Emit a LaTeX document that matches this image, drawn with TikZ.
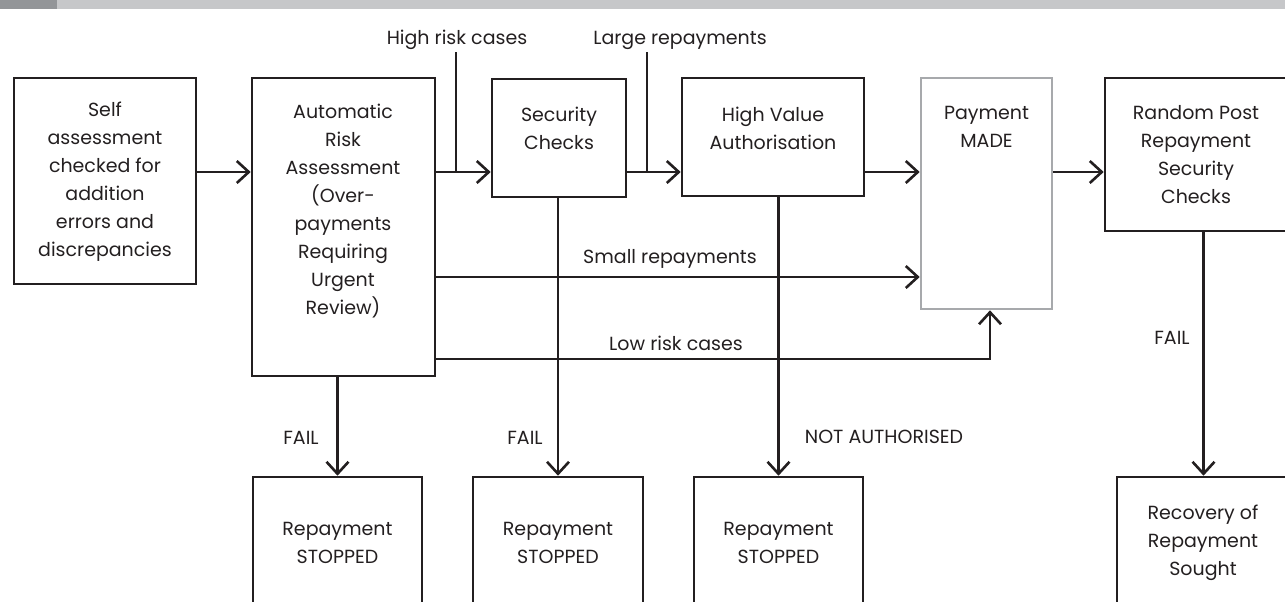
\documentclass[tikz,border=0pt]{standalone}
\usepackage{fontspec}
\setmainfont{Poppins}
\usetikzlibrary{arrows.meta}
\definecolor{ink}{HTML}{231F20}
\definecolor{barlight}{HTML}{C6C7C9}
\definecolor{bardark}{HTML}{939598}
\definecolor{paygray}{HTML}{A7A9AC}
\begin{document}
\begin{tikzpicture}[x=0.5pt,y=-0.5pt,
    box/.style={draw=ink,line width=1.3pt,rectangle,inner sep=0pt},
    txt/.style={align=center,font=\fontsize{9.5}{14}\selectfont,text=ink,inner sep=0pt},
    line/.style={draw=ink,line width=1.3pt},
    flow/.style={line,-{Straight Barb[length=6pt,width=11pt,line width=1.3pt]}}]
    \clip (0,0) rectangle (1285,601);
    % top bar
    \fill[barlight] (0,0) rectangle (1285,8.5);
    \fill[bardark] (0,0) rectangle (57,8.5);
    % boxes
    \node[box,minimum width=91pt,minimum height=103pt] (self) at (105,181) {};
    \node[box,minimum width=91.5pt,minimum height=149pt] (auto) at (343.5,227) {};
    \node[box,minimum width=67pt,minimum height=59pt] (sec) at (559,138) {};
    \node[box,minimum width=91pt,minimum height=59pt] (hv) at (773,137) {};
    \node[box,draw=paygray,minimum width=65.5pt,minimum height=115.5pt] (pay) at (986.5,193.5) {};
    \node[box,minimum width=92.5pt,minimum height=76.5pt] (rand) at (1197.5,154.5) {};
    \node[box,minimum width=84.5pt,minimum height=76.5pt] (rep1) at (337.5,553.5) {};
    \node[box,minimum width=85pt,minimum height=76.5pt] (rep2) at (558,553.5) {};
    \node[box,minimum width=84.5pt,minimum height=76.5pt] (rep3) at (778.5,553.5) {};
    \node[box,minimum width=86.5pt,minimum height=76.5pt] (recov) at (1203.5,553.5) {};
    % box texts
    \node[txt] (selftxt) at (105,182) {Self\\assessment\\checked for\\addition\\errors and\\discrepancies};
    \node[txt] (autotxt) at (343,211) {Automatic\\Risk\\Assessment\\(Over-\\payments\\Requiring\\Urgent\\Review)};
    \node[txt] (sectxt) at (559,128) {Security\\Checks};
    \node[txt] (hvtxt) at (773,128) {High Value\\Authorisation};
    \node[txt] (paytxt) at (986.5,127) {Payment\\MADE};
    \node[txt] (randtxt) at (1196,155) {Random Post\\Repayment\\Security\\Checks};
    \node[txt] (rep1txt) at (337.5,543) {Repayment\\STOPPED};
    \node[txt] (rep2txt) at (558,543) {Repayment\\STOPPED};
    \node[txt] (rep3txt) at (778.5,543) {Repayment\\STOPPED};
    \node[txt] (recovtxt) at (1203,543) {Recovery of\\Repayment\\Sought};
    % main row
    \coordinate (row) at (0,172);
    \draw[flow] (self.east |- row) -- (auto.west |- row);
    \draw[flow] (auto.east |- row) -- (sec.west |- row);
    \draw[flow] (sec.east |- row) -- (hv.west |- row);
    \draw[flow] (hv.east |- row) -- (pay.west |- row);
    \draw[flow] (pay.east |- row) -- (rand.west |- row);
    % side inputs
    \node[txt] (hrisk) at (457,40) {High risk cases};
    \node[txt] (lrep) at (680,40) {Large repayments};
    \coordinate (hrtop) at (456,52);
    \coordinate (lrtop) at (647,52);
    \draw[line] (hrtop) -- (hrtop |- row);
    \draw[line] (lrtop) -- (lrtop |- row);
    % bypasses
    \coordinate (small) at (0,277);
    \coordinate (lowend) at (990,359);
    \draw[flow] (auto.east |- small) -- (pay.west |- small);
    \draw[flow] (auto.east |- lowend) -- (lowend) -- (lowend |- pay.south);
    \node[txt] (smallrep) at (670,259) {Small repayments};
    \node[txt] (lowrisk) at (676,343) {Low risk cases};
    % failures
    \draw[flow] (auto.south -| rep1.north) -- (rep1.north);
    \draw[flow] (sec.south -| rep2.north) -- (rep2.north);
    \draw[flow] (hv.south -| rep3.north) -- (rep3.north);
    \draw[flow] (rand.south -| recov.north) -- (recov.north);
    \node[txt] (fail1) at (301,438) {FAIL};
    \node[txt] (fail2) at (525,438) {FAIL};
    \node[txt] (notauth) at (884,437) {NOT AUTHORISED};
    \node[txt] (fail3) at (1172,338) {FAIL};
\end{tikzpicture}
\end{document}
